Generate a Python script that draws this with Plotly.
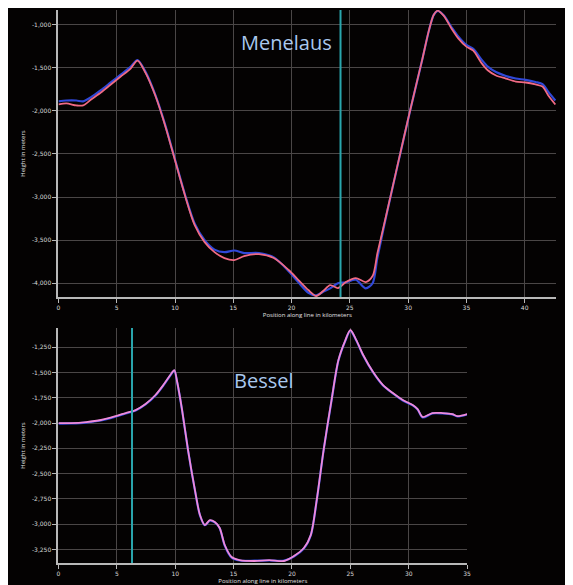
import plotly.graph_objects as go

# ---------------- Data ----------------
# Menelaus profile (position along line in km, height in m)
men_km = [0.0, 0.68, 1.53, 2.12, 2.80, 3.64, 4.49, 5.34, 6.19, 6.78, 7.46, 8.31, 9.15, 10.0,
          10.85, 11.69, 12.54, 13.39, 14.24, 15.08, 15.93, 17.2, 18.48, 19.75, 20.59, 21.44,
          22.12, 22.71, 23.31, 23.98, 24.66, 25.51, 26.36, 26.95, 27.37, 28.22, 29.07, 30.17,
          31.19, 31.78, 32.2, 32.54, 33.05, 33.73, 34.32, 35.0, 35.59, 36.27, 36.86, 37.54,
          38.39, 39.24, 40.08, 40.93, 41.53, 42.03, 42.63]
men_red = [-1926, -1914, -1937, -1937, -1868, -1787, -1694, -1602, -1509, -1417, -1556, -1822,
           -2169, -2574, -2979, -3326, -3523, -3639, -3708, -3731, -3685, -3662, -3708, -3847,
           -3963, -4079, -4148, -4090, -4021, -4056, -3986, -3940, -3986, -3917, -3650, -3153,
           -2644, -1995, -1417, -1069, -884, -838, -896, -1046, -1162, -1255, -1301, -1440,
           -1532, -1590, -1625, -1660, -1671, -1694, -1718, -1822, -1926]
men_blue = [-1890, -1880, -1880, -1890, -1840, -1760, -1670, -1580, -1490, -1410, -1545, -1815,
            -2160, -2565, -2970, -3310, -3500, -3610, -3640, -3620, -3650, -3650, -3700, -3860,
            -3990, -4110, -4140, -4100, -4060, -4000, -3990, -3960, -4060, -4000, -3700, -3160,
            -2650, -2000, -1420, -1070, -886, -840, -890, -1030, -1140, -1235, -1280, -1400,
            -1490, -1550, -1595, -1625, -1640, -1665, -1690, -1780, -1880]

# Bessel profile
bes_km = [0.0, 1.10, 2.37, 3.64, 4.92, 5.76, 6.61, 7.46, 8.31, 8.98, 9.58, 9.92, 10.17, 10.59,
          11.10, 11.69, 12.12, 12.54, 12.97, 13.39, 13.81, 14.24, 14.83, 15.51, 16.78, 18.05,
          19.32, 20.17, 21.02, 21.61, 22.12, 22.71, 23.39, 23.98, 24.58, 25.0, 25.51, 26.1,
          26.95, 27.80, 28.64, 29.49, 30.34, 30.76, 31.19, 32.03, 32.88, 33.73, 34.15, 35.0]
bes_red = [-2000, -2000, -1990, -1970, -1931, -1901, -1872, -1812, -1723, -1625, -1526, -1477,
           -1595, -1872, -2267, -2662, -2909, -3008, -2959, -2978, -3037, -3205, -3324, -3354,
           -3363, -3354, -3363, -3314, -3235, -3107, -2761, -2267, -1773, -1378, -1180, -1081,
           -1180, -1328, -1496, -1625, -1704, -1773, -1822, -1862, -1940, -1901, -1901, -1911,
           -1931, -1911]
bes_blue = [-2005, -2003, -1995, -1975, -1936, -1906, -1876, -1816, -1728, -1630, -1530, -1482,
            -1600, -1875, -2270, -2665, -2912, -3010, -2965, -2982, -3040, -3210, -3330, -3358,
            -3360, -3358, -3360, -3318, -3240, -3110, -2765, -2270, -1778, -1382, -1185, -1086,
            -1185, -1333, -1500, -1630, -1708, -1777, -1826, -1866, -1945, -1905, -1905, -1915,
            -1935, -1915]

men_marker_km = 24.2
bes_marker_km = 6.3

men_yticks = [-1000, -1500, -2000, -2500, -3000, -3500, -4000]
bes_yticks = [-1250, -1500, -1750, -2000, -2250, -2500, -2750, -3000, -3250]
men_xticks = [0, 5, 10, 15, 20, 25, 30, 35, 40]
bes_xticks = [0, 5, 10, 15, 20, 25, 30, 35]

# ---------------- Styles ----------------
BG = "#040202"
GRID = "#4a4646"
AXIS = "#b8b8b8"
TICKF = dict(size=6, color="#d8d8d8", family="DejaVu Sans")
BLUE = "#3048d8"
RED = "#f06a84"
PINK = "#f08ad8"
CYAN = "#2aa5ad"

fig = go.Figure()

fig.add_trace(go.Scatter(x=men_km, y=men_blue, mode="lines",
                         line=dict(color=BLUE, width=2.2, shape="spline", smoothing=0.8),
                         xaxis="x", yaxis="y", showlegend=False))
fig.add_trace(go.Scatter(x=men_km, y=men_red, mode="lines",
                         line=dict(color=RED, width=1.8, shape="spline", smoothing=0.8),
                         xaxis="x", yaxis="y", showlegend=False))
fig.add_trace(go.Scatter(x=bes_km, y=bes_blue, mode="lines",
                         line=dict(color=BLUE, width=2.2, shape="spline", smoothing=0.8),
                         xaxis="x2", yaxis="y2", showlegend=False))
fig.add_trace(go.Scatter(x=bes_km, y=bes_red, mode="lines",
                         line=dict(color=PINK, width=1.8, shape="spline", smoothing=0.8),
                         xaxis="x2", yaxis="y2", showlegend=False))

fig.add_shape(type="line", xref="x", yref="y domain", x0=men_marker_km, x1=men_marker_km, y0=0, y1=1,
              line=dict(color=CYAN, width=2))
fig.add_shape(type="line", xref="x2", yref="y2 domain", x0=bes_marker_km, x1=bes_marker_km, y0=0, y1=1,
              line=dict(color=CYAN, width=2))


def xax(domain, rng, ticks, anchor):
    return dict(domain=domain, range=rng, tickvals=ticks, ticktext=[str(t) for t in ticks],
                showgrid=True, gridcolor=GRID, gridwidth=1, zeroline=False,
                showline=True, linecolor=AXIS, linewidth=2, ticks="outside", ticklen=4,
                tickcolor=AXIS, tickfont=TICKF, anchor=anchor,
                title=dict(text="Position along line in kilometers",
                           font=dict(size=6, color="#e0e0e0"), standoff=3))


def yax(domain, rng, ticks, anchor):
    return dict(domain=domain, range=rng, tickvals=ticks, ticktext=[f"{t:,}" for t in ticks],
                showgrid=True, gridcolor=GRID, gridwidth=1, zeroline=False,
                showline=True, linecolor=AXIS, linewidth=2, ticks="outside", ticklen=4,
                tickcolor=AXIS, tickfont=TICKF, anchor=anchor,
                title=dict(text="Height in meters", font=dict(size=6, color="#e0e0e0"), standoff=6))


fig.update_layout(
    width=565, height=577,
    paper_bgcolor=BG, plot_bgcolor=BG,
    margin=dict(l=0, r=0, t=0, b=0),
    xaxis=xax([0.0867, 0.977], [0, 42.7], men_xticks, "y"),
    yaxis=yax([0.4991, 0.9965], [-4160, -830], men_yticks, "x"),
    xaxis2=xax([0.0867, 0.8177], [0, 35.0], bes_xticks, "y2"),
    yaxis2=yax([0.0381, 0.4454], [-3383, -1061], bes_yticks, "x2"),
    annotations=[
        dict(text="Menelaus", xref="paper", yref="paper", x=0.4938, y=0.941, showarrow=False,
             xanchor="center", yanchor="middle",
             font=dict(size=20, color="#a9c8ee", family="Open Sans")),
        dict(text="Bessel", xref="paper", yref="paper", x=0.4549, y=0.3536, showarrow=False,
             xanchor="center", yanchor="middle",
             font=dict(size=20, color="#a9c8ee", family="Open Sans")),
    ],
)

fig.write_html("out.html")
